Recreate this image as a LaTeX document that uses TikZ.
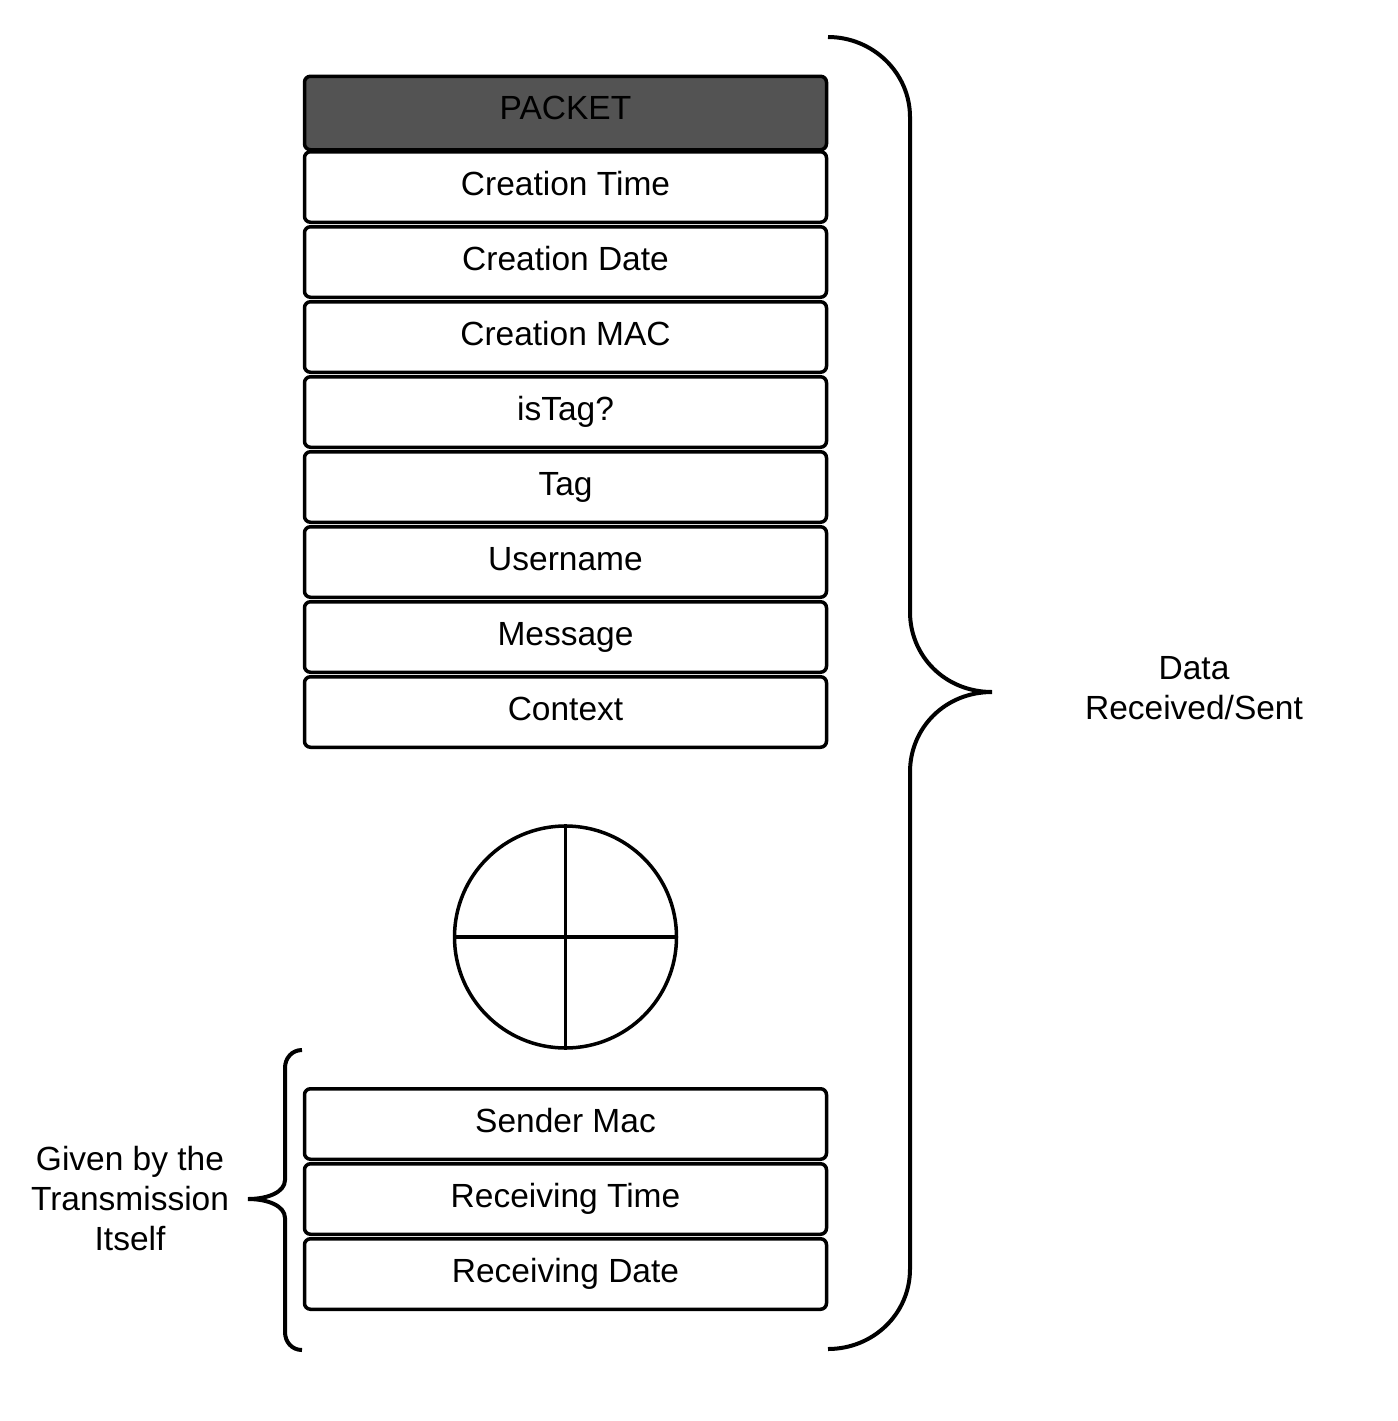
\documentclass[tikz,border=0pt]{standalone}
\usepackage{fontspec}
\setmainfont{Liberation Sans}
\usepackage{tikz}

\tikzset{
  field/.style={draw, line width=3.5pt, rounded corners=6pt, fill=white,
    minimum width=522pt, minimum height=70.5pt, inner sep=0pt,
    text height=24pt, text depth=7pt},
  header/.style={field, fill=packetgray, minimum height=73.5pt},
  bracket/.style={line width=4pt}
}
\definecolor{packetgray}{HTML}{535353}

\begin{document}
\begin{tikzpicture}[x=1pt, y=-1pt, font=\fontsize{33.5}{40}\selectfont]

    \useasboundingbox (0,0) rectangle (1397,1421);

    \node[header, label={[yshift=5pt]center:PACKET}] (hdr) at (565.5,113) {};

    \node[field] (ctime) at (565.5,187) {Creation Time};
    \node[field] (cdate) at (565.5,262) {Creation Date};
    \node[field] (cmac) at (565.5,337) {Creation MAC};
    \node[field] (istag) at (565.5,412) {isTag?};
    \node[field] (tag) at (565.5,487) {Tag};
    \node[field] (user) at (565.5,562) {Username};
    \node[field] (msg) at (565.5,637) {Message};
    \node[field] (ctx) at (565.5,712) {Context};


    \node[draw, circle, line width=3.5pt, minimum size=222pt, inner sep=0pt] (net) at (565.5,937) {};

    \draw[line width=3.5pt] (net.north) -- (net.south);
    \draw[line width=3.5pt] (net.west) -- (net.east);


    \node[field] (smac) at (565.5,1124) {Sender Mac};
    \node[field] (rtime) at (565.5,1199) {Receiving Time};
    \node[field] (rdate) at (565.5,1274) {Receiving Date};


    % big brace on the right
    \draw[bracket] (828,37) .. controls (873,37) and (910,73) .. (910,117)
      -- (910,612) .. controls (910,656) and (945,692) .. (992,692)
      .. controls (945,692) and (910,728) .. (910,772)
      -- (910,1269) .. controls (910,1314) and (873,1349) .. (828,1349);

    \node[align=center] (sent) at (1194,688) {Data\\Received/Sent};


    % small brace on the left
    \draw[bracket] (302,1050) .. controls (292,1050) and (285,1058) .. (285,1068)
      -- (285,1180) .. controls (285,1192) and (268,1199) .. (248,1199)
      .. controls (268,1199) and (285,1206) .. (285,1218)
      -- (285,1332) .. controls (285,1342) and (292,1350) .. (302,1350);

    \node[align=center] (given) at (130,1199) {Given by the\\Transmission\\Itself};

  \end{tikzpicture}
\end{document}
